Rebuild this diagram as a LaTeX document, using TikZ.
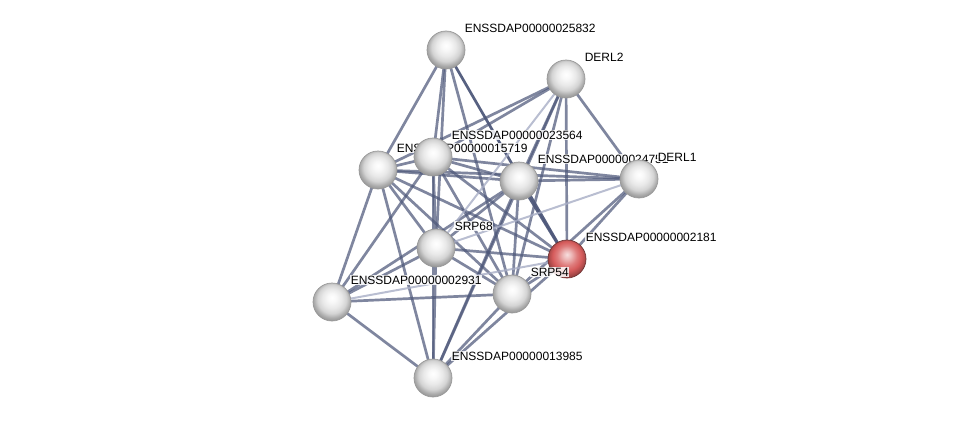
\documentclass[tikz,border=0pt]{standalone}
\usepackage{fontspec}
\setmainfont{Liberation Sans}
\usetikzlibrary{calc}
\definecolor{edgeblue}{RGB}{78,88,122}
\definecolor{edgelight}{RGB}{168,174,198}
\definecolor{queryred}{RGB}{214,92,92}

\pgfdeclareradialshading{greysphere}{\pgfpoint{0bp}{6bp}}{%
  color(0bp)=(white); color(6bp)=(black!3); color(13bp)=(black!9);
  color(19bp)=(black!17); color(24bp)=(black!33); color(29bp)=(black!45);
  color(50bp)=(black!45)}
\pgfdeclareradialshading{redsphere}{\pgfpoint{0bp}{6bp}}{%
  color(0bp)=(queryred!20!white); color(6bp)=(queryred!45!white);
  color(13bp)=(queryred!80!white); color(19bp)=(queryred);
  color(24bp)=(queryred!80!black); color(29bp)=(queryred!60!black);
  color(50bp)=(queryred!60!black)}

\begin{document}
\begin{tikzpicture}[
  x=1pt, y=-1pt,
  protein/.style={circle, minimum size=38pt, inner sep=0pt, shading=greysphere,
                  draw=gray!80, line width=0.7pt},
  query/.style={protein, shading=redsphere, draw=red!30!black!80},
  edge/.style={edgeblue, line width=2.7pt, opacity=0.72},
  strong/.style={edge, opacity=0.95},
  weak/.style={edgelight, line width=2pt, opacity=0.8},
  lab/.style={anchor=west, font=\fontsize{12}{14}\selectfont, inner sep=0.6pt,
              fill=white, fill opacity=0.85, text opacity=1}
]
\useasboundingbox (0,0) rectangle (975,423);

% positions
\coordinate (A) at (446,50);
\coordinate (B) at (566,79);
\coordinate (C) at (378,170);
\coordinate (D) at (433,157);
\coordinate (E) at (519,181);
\coordinate (F) at (639,179);
\coordinate (G) at (567,259);
\coordinate (H) at (436,248);
\coordinate (I) at (332,302);
\coordinate (J) at (512,294);
\coordinate (K) at (433,378);

% edges
\foreach \a/\b in {A/C, A/D, A/H, A/J,
                   B/C, B/D, B/E, B/J, B/G, B/F, B/K,
                   C/D, C/E, C/F, C/H, C/I, C/J, C/K, C/G,
                   D/E, D/F, D/H, D/I, D/J, D/G, D/K,
                   E/F, E/H, E/I, E/J, E/K,
                   F/G, F/J, G/H, G/J, G/K,
                   H/I, H/J, H/K, I/J, I/K, J/K}
  \draw[edge] (\a) -- (\b);
\draw[strong] (A) -- (G);
\draw[strong] (E) -- (G);
\draw[weak] (B) -- (H);
\draw[weak] (F) -- (H);
\draw[weak] (G) -- (I);

% proteins, each followed by its label
\node[protein] (nA) at (A) {};
\node[lab] (lA) at ($(A)+(18,-22)$) {ENSSDAP00000025832};
\node[protein] (nB) at (B) {};
\node[lab] (lB) at ($(B)+(18,-22)$) {DERL2};
\node[protein] (nC) at (C) {};
\node[lab] (lC) at ($(C)+(18,-22)$) {ENSSDAP00000015719};
\node[protein] (nD) at (D) {};
\node[lab] (lD) at ($(D)+(18,-22)$) {ENSSDAP00000023564};
\node[protein] (nE) at (E) {};
\node[lab] (lE) at ($(E)+(18,-22)$) {ENSSDAP00000024751};
\node[protein] (nF) at (F) {};
\node[lab] (lF) at ($(F)+(18,-22)$) {DERL1};
\node[query] (nG) at (G) {};
\node[lab] (lG) at ($(G)+(18,-22)$) {ENSSDAP00000002181};
\node[protein] (nH) at (H) {};
\node[lab] (lH) at ($(H)+(18,-22)$) {SRP68};
\node[protein] (nI) at (I) {};
\node[lab] (lI) at ($(I)+(18,-22)$) {ENSSDAP00000002931};
\node[protein] (nJ) at (J) {};
\node[lab] (lJ) at ($(J)+(18,-22)$) {SRP54};
\node[protein] (nK) at (K) {};
\node[lab] (lK) at ($(K)+(18,-22)$) {ENSSDAP00000013985};
\end{tikzpicture}
\end{document}
